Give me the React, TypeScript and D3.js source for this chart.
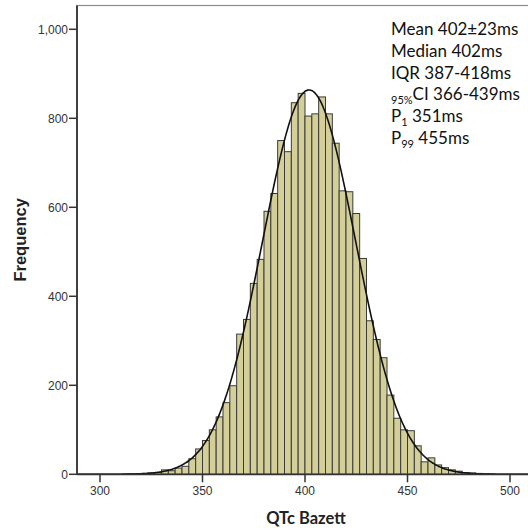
import React, { useRef, useEffect } from "react";
import * as d3 from "d3";

// histogram bins (ms), width 10/3 ms, first bin starts at 313.33
const binWidth = 10 / 3;
const firstBinStart = 313 + 1 / 3;
const binCounts = [
    1, 1, 2, 3, 4, 10, 8, 14, 18, 35, 57, 76, 100, 129, 161, 199, 315, 348,
    429, 483, 591, 631, 750, 725, 835, 856, 805, 810, 848, 810, 744, 637, 635,
    586, 485, 345, 303, 262, 178, 126, 100, 98, 64, 28, 37, 21, 15, 10, 7, 4,
    3, 2, 1,
];

// normal curve fit
const curveMean = 402;
const curveSd = 22.7;

const xTicks = [300, 350, 400, 450, 500];
const yTicks = [0, 200, 400, 600, 800, 1000];

const statLines = [
    { pre: "", sub: "", text: "Mean 402±23ms" },
    { pre: "", sub: "", text: "Median 402ms" },
    { pre: "", sub: "", text: "IQR 387-418ms" },
    { pre: "", sub: "95%", text: "CI 366-439ms" },
    { pre: "P", sub: "1", text: " 351ms" },
    { pre: "P", sub: "99", text: " 455ms" },
];

const W = 528;
const H = 531;

const App = () => {
    const svgRef = useRef<SVGSVGElement>(null);

    function draw() {
        const svg = d3.select(svgRef.current);
        svg.selectAll("*").remove();

        const left = 77;
        const right = 535;
        const top = 5.5;
        const bottom = 474.3;

        const x = d3.scaleLinear().domain([300, 500]).range([100, 510]);
        const y = d3.scaleLinear().domain([0, 1000]).range([bottom, 29.3]);

        svg.append("rect")
            .attr("width", W)
            .attr("height", H)
            .attr("fill", "white");

        // plot frame
        svg.append("rect")
            .attr("x", left)
            .attr("y", top)
            .attr("width", right - left)
            .attr("height", bottom - top)
            .attr("fill", "white")
            .attr("stroke", "#8c8c8c")
            .attr("stroke-width", 1.2);

        const bins = binCounts.map((c, i) => ({
            x0: firstBinStart + i * binWidth,
            x1: firstBinStart + (i + 1) * binWidth,
            count: c,
        }));

        svg.append("g")
            .selectAll("rect")
            .data(bins)
            .enter()
            .append("rect")
            .attr("x", (d) => x(d.x0))
            .attr("y", (d) => y(d.count))
            .attr("width", (d) => x(d.x1) - x(d.x0))
            .attr("height", (d) => bottom - y(d.count))
            .attr("fill", "#d4cf98")
            .attr("stroke", "#3a3a3a")
            .attr("stroke-width", 1);

        // fitted normal curve
        const total = d3.sum(binCounts);
        const scaleK = (total * binWidth) / (curveSd * Math.sqrt(2 * Math.PI));
        const curveXs = d3.range(x.invert(left), x.invert(right), 0.5);
        const line = d3
            .line<number>()
            .x((v) => x(v))
            .y((v) => y(scaleK * Math.exp(-0.5 * ((v - curveMean) / curveSd) ** 2)))
            .curve(d3.curveBasis);
        svg.append("path")
            .datum(curveXs)
            .attr("d", line)
            .attr("fill", "none")
            .attr("stroke", "#111")
            .attr("stroke-width", 1.6);

        // axes
        const axisColor = "#333";
        svg.append("line")
            .attr("x1", left)
            .attr("x2", left)
            .attr("y1", top)
            .attr("y2", bottom)
            .attr("stroke", axisColor)
            .attr("stroke-width", 1.8);
        svg.append("line")
            .attr("x1", left)
            .attr("x2", right)
            .attr("y1", bottom)
            .attr("y2", bottom)
            .attr("stroke", axisColor)
            .attr("stroke-width", 1.8);

        const yAxis = svg.append("g");
        yTicks.forEach((t) => {
            yAxis.append("line")
                .attr("x1", left - 8)
                .attr("x2", left)
                .attr("y1", y(t))
                .attr("y2", y(t))
                .attr("stroke", axisColor)
                .attr("stroke-width", 1.5);
            yAxis.append("text")
                .attr("x", left - 9)
                .attr("y", y(t) + 4.5)
                .attr("text-anchor", "end")
                .style("font-family", "'Liberation Sans', Arial, sans-serif")
                .style("font-size", "12px")
                .attr("fill", "#333")
                .text(d3.format(",")(t));
        });

        const xAxis = svg.append("g");
        xTicks.forEach((t) => {
            xAxis.append("line")
                .attr("x1", x(t))
                .attr("x2", x(t))
                .attr("y1", bottom)
                .attr("y2", bottom + 8)
                .attr("stroke", axisColor)
                .attr("stroke-width", 1.5);
            xAxis.append("text")
                .attr("x", x(t))
                .attr("y", 495)
                .attr("text-anchor", "middle")
                .style("font-family", "'Liberation Sans', Arial, sans-serif")
                .style("font-size", "12px")
                .attr("fill", "#333")
                .text(t);
        });

        svg.append("text")
            .attr("x", (left + right) / 2)
            .attr("y", 524)
            .attr("text-anchor", "middle")
            .style("font-family", "Lato, sans-serif")
            .style("font-size", "16.5px")
            .style("font-weight", "700")
            .attr("fill", "#222")
            .text("QTc Bazett");

        svg.append("text")
            .attr("transform", `translate(26, ${(top + bottom) / 2}) rotate(-90)`)
            .attr("text-anchor", "middle")
            .style("font-family", "'Liberation Sans', Arial, sans-serif")
            .style("font-size", "16.5px")
            .style("font-weight", "700")
            .attr("fill", "#222")
            .text("Frequency");

        // stats block
        const stats = svg.append("g")
            .style("font-family", "Lato, sans-serif")
            .style("font-size", "17px")
            .attr("fill", "#111");
        statLines.forEach((s, i) => {
            const t = stats.append("text")
                .attr("x", 391)
                .attr("y", 35 + i * 21.8);
            if (s.pre) {
                t.append("tspan").text(s.pre);
                t.append("tspan")
                    .attr("dy", 3.5)
                    .style("font-size", "11px")
                    .text(s.sub);
                t.append("tspan").attr("dy", -3.5).text(s.text);
            } else if (s.sub) {
                t.append("tspan")
                    .attr("dy", 3.5)
                    .style("font-size", "11px")
                    .text(s.sub);
                t.append("tspan").attr("dy", -3.5).text(s.text);
            } else {
                t.text(s.text);
            }
        });
    }

    useEffect(draw, []);
    return (
        <svg
            ref={svgRef}
            width={W}
            height={H}
            style={{ position: "absolute", left: 0, top: 0, display: "block" }}
        ></svg>
    );
};

export default App;
